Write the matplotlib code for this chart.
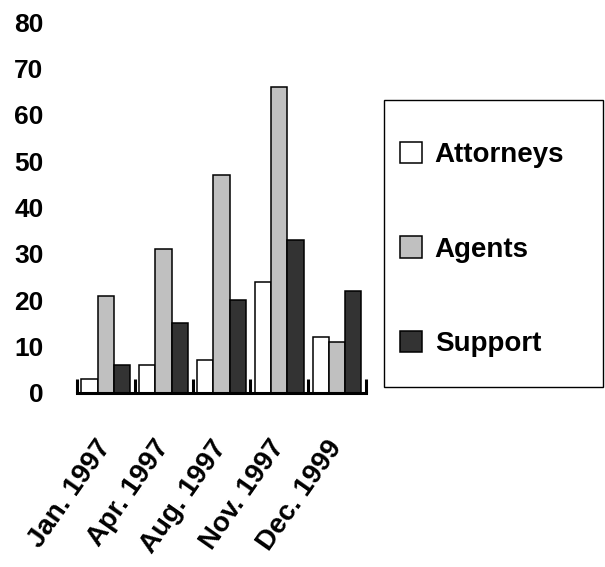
import numpy as np
import matplotlib
matplotlib.use("Agg")
import matplotlib.pyplot as plt
from matplotlib.patches import Rectangle

plt.rcParams['font.family'] = ['Liberation Sans', 'DejaVu Sans']
plt.rcParams['font.weight'] = 'bold'

dates = ["Jan. 1997", "Apr. 1997", "Aug. 1997", "Nov. 1997", "Dec. 1999"]
attorneys = [3, 6, 7, 24, 12]
agents = [21, 31, 47, 66, 11]
support = [6, 15, 20, 33, 22]

series = ["Attorneys", "Agents", "Support"]
colors = ["#ffffff", "#c0c0c0", "#333333"]

fig = plt.figure(figsize=(6.05, 5.67), dpi=100)
ax = fig.add_axes([0.127, 0.307, 0.478, 0.654])

x = np.arange(len(dates))
w = 0.28
for i, (name, vals) in enumerate(zip(series, [attorneys, agents, support])):
    ax.bar(x + (i - 1) * w, vals, width=w, color=colors[i], edgecolor='black',
           linewidth=1.1, label=name)

ax.set_xlim(-0.5, len(dates) - 0.5)
ax.set_ylim(0, 80)
ax.set_yticks(range(0, 81, 10))

for s in ['left', 'top', 'right']:
    ax.spines[s].set_visible(False)
ax.spines['bottom'].set_linewidth(2.2)

# group boundary ticks on x, labels at group centres
ax.set_xticks(np.arange(-0.5, len(dates), 1.0))
ax.set_xticklabels([])
ax.tick_params(axis='x', which='major', direction='in', length=10, width=2.2)
ax.set_xticks(x, minor=True)
ax.set_xticklabels(dates, minor=True, rotation=55, ha='right', va='center',
                   rotation_mode='anchor', fontsize=20, fontweight='bold')
ax.tick_params(axis='x', which='minor', length=0, pad=36)

ax.tick_params(axis='y', length=0, pad=24, labelsize=19)
for t in ax.get_yticklabels():
    t.set_fontweight('bold')

leg = fig.legend(loc='upper left', bbox_to_anchor=(400 / 605, 1 - 142 / 567),
                 frameon=False, fontsize=20, borderpad=0, borderaxespad=0,
                 handlelength=0.8, handleheight=0.8, handletextpad=0.45,
                 labelspacing=2.45)
for t in leg.get_texts():
    t.set_fontweight('bold')

fig.patches.append(Rectangle((384 / 605, 1 - 387 / 567), 219 / 605, 287 / 567,
                             transform=fig.transFigure, fill=False,
                             edgecolor='black', linewidth=1.0))

fig.savefig("out.png", dpi=100)
